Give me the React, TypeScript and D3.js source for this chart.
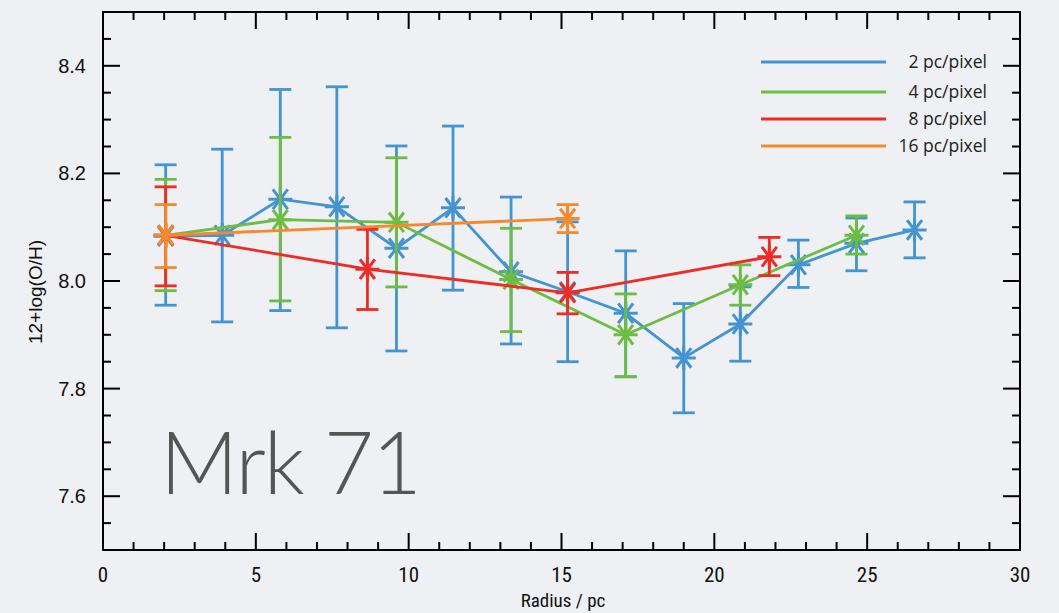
import React from "react";
import * as d3 from "d3";

const blueX = [2.05, 3.9, 5.8, 7.65, 9.6, 11.45, 13.35, 15.2, 17.1, 19.0, 20.85, 22.75, 24.65, 26.55];
const blueY = [8.083, 8.085, 8.152, 8.138, 8.061, 8.136, 8.017, 7.98, 7.94, 7.857, 7.92, 8.03, 8.07, 8.095];
const blueHi = [8.216, 8.245, 8.356, 8.361, 8.251, 8.288, 8.156, 8.11, 8.056, 7.958, 7.989, 8.076, 8.117, 8.147];
const blueLo = [7.955, 7.924, 7.945, 7.913, 7.87, 7.983, 7.883, 7.85, 7.822, 7.755, 7.851, 7.988, 8.019, 8.043];

const greenX = [2.05, 5.8, 9.6, 13.35, 17.1, 20.85, 24.65];
const greenY = [8.085, 8.114, 8.109, 8.003, 7.9, 7.993, 8.085];
const greenHi = [8.189, 8.267, 8.229, 8.098, 7.976, 8.03, 8.121];
const greenLo = [7.982, 7.963, 7.989, 7.906, 7.822, 7.955, 8.05];

const redX = [2.05, 8.65, 15.2, 21.8];
const redY = [8.085, 8.022, 7.978, 8.045];
const redHi = [8.175, 8.096, 8.016, 8.081];
const redLo = [7.991, 7.947, 7.939, 8.01];

const orangeX = [2.05, 15.2];
const orangeY = [8.085, 8.116];
const orangeHi = [8.142, 8.142];
const orangeLo = [8.025, 8.09];

const seriesNames = ["2 pc/pixel", "4 pc/pixel", "8 pc/pixel", "16 pc/pixel"];
const seriesColors = ["#4394d0", "#6dbd45", "#ee2b25", "#f5892c"];

const xTicks = [0, 5, 10, 15, 20, 25, 30];
const yTicks = [7.6, 7.8, 8.0, 8.2, 8.4];

const W = 1059;
const H = 613;
const L = 103, R = 1020, T = 12, B = 550;

export default function App() {
  const x = d3.scaleLinear().domain([0, 30]).range([L, R]);
  const y = d3.scaleLinear().domain([7.5, 8.5]).range([B, T]);

  const series = [
    { xs: blueX, ys: blueY, hi: blueHi, lo: blueLo },
    { xs: greenX, ys: greenY, hi: greenHi, lo: greenLo },
    { xs: redX, ys: redY, hi: redHi, lo: redLo },
    { xs: orangeX, ys: orangeY, hi: orangeHi, lo: orangeLo },
  ];

  const line = d3.line<[number, number]>().x((d) => x(d[0])).y((d) => y(d[1]));

  const xMinor = d3.range(0, 31, 1).filter((v) => v % 5 !== 0);
  const yMinorVals = d3.range(0, 21).map((i) => 7.5 + i * 0.05).filter((v) => {
    const k = Math.round(v * 100);
    return k % 20 !== 0 && k > 750 && k < 850;
  });

  const cap = 11;
  const ms = 12;
  const star = (cx: number, cy: number) => {
    const dx = ms * 0.62, dy = ms * 0.82;
    return `M${cx - ms},${cy}L${cx + ms},${cy}M${cx},${cy - ms}L${cx},${cy + ms}M${cx - dx},${cy - dy}L${cx + dx},${cy + dy}M${cx - dx},${cy + dy}L${cx + dx},${cy - dy}`;
  };

  const tickFont = "'Liberation Sans', Arial, sans-serif";
  const narrowFont = "'Liberation Sans Narrow', 'Roboto Condensed', 'DejaVu Sans Condensed', sans-serif";

  return (
    <svg width={W} height={H} style={{ position: "absolute", left: 0, top: 0, background: "#eef0f3" }}>
      <rect x={0} y={0} width={W} height={H} fill="#eef0f3" />
      {series.map((s, si) => {
        const color = seriesColors[si];
        const pts: [number, number][] = s.xs.map((xv, i) => [xv, s.ys[i]]);
        return (
          <g key={si} stroke={color} strokeWidth={2.8} fill="none" strokeLinecap="butt">
            <path d={line(pts) || ""} />
            {s.xs.map((xv, i) => {
              const cx = x(xv);
              return (
                <g key={i}>
                  <line x1={cx} x2={cx} y1={y(s.hi[i])} y2={y(s.lo[i])} />
                  <line x1={cx - cap} x2={cx + cap} y1={y(s.hi[i])} y2={y(s.hi[i])} />
                  <line x1={cx - cap} x2={cx + cap} y1={y(s.lo[i])} y2={y(s.lo[i])} />
                  <path d={star(cx, y(s.ys[i]))} strokeWidth={3} />
                </g>
              );
            })}
          </g>
        );
      })}

      <rect x={L} y={T} width={R - L} height={B - T} fill="none" stroke="#000" strokeWidth={2} />
      <g stroke="#000" strokeWidth={2}>
        {xTicks.map((v) => (
          <g key={"xt" + v}>
            <line x1={x(v)} x2={x(v)} y1={B} y2={B - 17} />
            <line x1={x(v)} x2={x(v)} y1={T} y2={T + 17} />
          </g>
        ))}
        {xMinor.map((v) => (
          <g key={"xm" + v}>
            <line x1={x(v)} x2={x(v)} y1={B} y2={B - 8} />
            <line x1={x(v)} x2={x(v)} y1={T} y2={T + 8} />
          </g>
        ))}
        {yTicks.map((v) => (
          <g key={"yt" + v}>
            <line x1={L} x2={L + 17} y1={y(v)} y2={y(v)} />
            <line x1={R} x2={R - 17} y1={y(v)} y2={y(v)} />
          </g>
        ))}
        {yMinorVals.map((v) => (
          <g key={"ym" + v}>
            <line x1={L} x2={L + 8} y1={y(v)} y2={y(v)} />
            <line x1={R} x2={R - 8} y1={y(v)} y2={y(v)} />
          </g>
        ))}
      </g>

      {yTicks.map((v) => (
        <text key={"yl" + v} x={86} y={y(v) + 7} textAnchor="end" fontFamily={tickFont} fontSize={20} fill="#111">
          {v.toFixed(1)}
        </text>
      ))}
      {xTicks.map((v) => (
        <text key={"xl" + v} x={x(v)} y={582} textAnchor="middle" fontFamily={narrowFont} fontSize={21} fill="#111">
          {v}
        </text>
      ))}
      <text x={563} y={607} textAnchor="middle" fontFamily={narrowFont} fontSize={19} fill="#111">
        Radius / pc
      </text>
      <text transform={`translate(42,292) rotate(-90)`} textAnchor="middle" fontFamily={tickFont} fontSize={19} fill="#111">
        12+log(O/H)
      </text>

      {seriesNames.map((n, i) => {
        const ly = [62, 92, 119, 146][i];
        return (
          <g key={n}>
            <line x1={761} x2={886} y1={ly} y2={ly} stroke={seriesColors[i]} strokeWidth={2.8} />
            <text x={987} y={ly + 6} textAnchor="end" fontFamily="'Open Sans', Lato, sans-serif" fontSize={17.5} fill="#222">
              {n}
            </text>
          </g>
        );
      })}

      <text x={160} y={494} fontFamily="Lato, 'Open Sans', sans-serif" fontWeight={300} fontSize={86} letterSpacing={-2} fill="#555">
        Mrk 71
      </text>
    </svg>
  );
}
